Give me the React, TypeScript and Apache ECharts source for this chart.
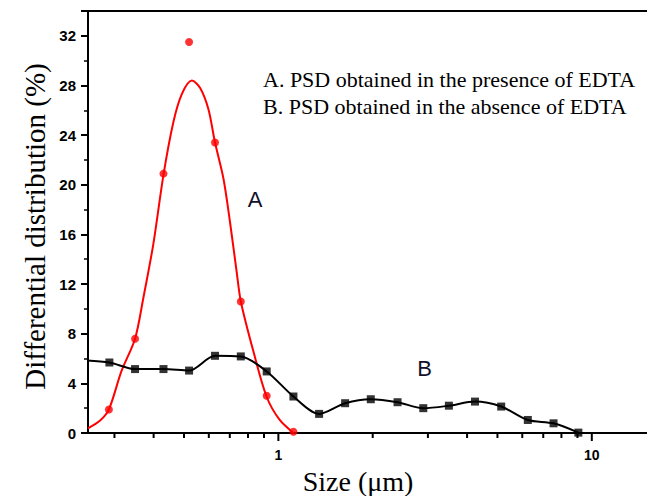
import React, { useEffect, useRef } from "react";
import * as echarts from "echarts";

// Curve A: fitted curve (presence of EDTA)
const curveAX = [0.247, 0.27, 0.288, 0.316, 0.349, 0.371, 0.399, 0.43, 0.462, 0.492, 0.53, 0.563, 0.598, 0.628, 0.668, 0.701, 0.736, 0.759, 0.832, 0.918, 1.01, 1.117];
const curveAY = [0.38, 1.0, 1.9, 5.0, 7.6, 10.9, 15.2, 20.8, 25.0, 27.3, 28.4, 27.8, 26.1, 23.4, 20.5, 17.0, 13.0, 10.6, 6.6, 2.9, 1.05, 0];
// Points A
const pointsAX = [0.288, 0.349, 0.43, 0.519, 0.628, 0.759, 0.918, 1.117];
const pointsAY = [1.9, 7.6, 20.9, 31.5, 23.4, 10.6, 3.0, 0.1];
// Series B (absence of EDTA)
const lineBX = [0.239, 0.289, 0.349, 0.43, 0.519, 0.628, 0.759, 0.918, 1.117, 1.349, 1.633, 1.972, 2.4, 2.9, 3.5, 4.24, 5.14, 6.25, 7.55, 9.06];
const lineBY = [5.86, 5.68, 5.15, 5.15, 5.03, 6.22, 6.17, 4.96, 2.94, 1.54, 2.4, 2.72, 2.48, 2.0, 2.2, 2.53, 2.13, 1.05, 0.78, 0.03];
// x-axis ticks
const majorTicks = [1, 10];
const minorTicks = [0.3, 0.4, 0.5, 0.6, 0.7, 0.8, 0.9, 2, 3, 4, 5, 6, 7, 8, 9];

const legendLines = [
  "A. PSD obtained in the presence of EDTA",
  "B. PSD obtained in the absence of EDTA",
];

const SERIF = "'Liberation Serif', 'Times New Roman', serif";
const SANS = "'Liberation Sans', Arial, sans-serif";

export default function App() {
  const ref = useRef<HTMLDivElement>(null);
  useEffect(() => {
    if (!ref.current) return;
    const chart = echarts.init(ref.current, undefined, { renderer: "svg" });
    const zip = (xs: number[], ys: number[]) => xs.map((x, i) => [x, ys[i]]);
    const tickData = [
      ...majorTicks.map((v) => [v, 8]),
      ...minorTicks.map((v) => [v, 5]),
    ];
    chart.setOption({
      animation: false,
      backgroundColor: "#ffffff",
      grid: { left: 88, right: 0, top: 11, bottom: 63, containLabel: false },
      xAxis: [
        {
          type: "log",
          logBase: 10,
          min: 0.247,
          max: 15,
          axisLine: { show: true, lineStyle: { color: "#000", width: 2 } },
          axisTick: { show: false },
          splitLine: { show: false },
          axisLabel: {
            margin: 15,
            color: "#000",
            fontFamily: SANS,
            fontWeight: "bold",
            fontSize: 14,
            showMinLabel: false,
            showMaxLabel: false,
            formatter: (v: number) =>
              Math.abs(v - 1) < 1e-6 ? "1" : Math.abs(v - 10) < 1e-6 ? "10" : "",
          },
        },
        {
          type: "log",
          logBase: 10,
          min: 0.247,
          max: 15,
          position: "top",
          axisLine: { show: true, onZero: false, lineStyle: { color: "#000", width: 2 } },
          axisTick: { show: false },
          axisLabel: { show: false },
          splitLine: { show: false },
        },
      ],
      yAxis: {
        type: "value",
        min: 0,
        max: 34,
        interval: 4,
        axisLine: { show: true, lineStyle: { color: "#000", width: 2 } },
        axisTick: { show: true, length: 7, lineStyle: { color: "#000", width: 2 } },
        minorTick: { show: true, splitNumber: 2, length: 4, lineStyle: { color: "#000", width: 1.5 } },
        splitLine: { show: false },
        axisLabel: {
          margin: 12,
          color: "#000",
          fontFamily: SANS,
          fontWeight: "bold",
          fontSize: 15,
          showMaxLabel: false,
          formatter: (v: number) => (v > 32 ? "" : String(v)),
        },
      },
      series: [
        {
          type: "line",
          data: zip(curveAX, curveAY),
          smooth: 0.3,
          showSymbol: false,
          lineStyle: { color: "#ff0000", width: 2 },
          itemStyle: { color: "#ff0000" },
          clip: true,
          z: 3,
        },
        {
          type: "scatter",
          data: zip(pointsAX, pointsAY),
          symbol: "circle",
          symbolSize: 8,
          itemStyle: { color: "#ff0000" },
          z: 4,
        },
        {
          type: "line",
          data: zip(lineBX, lineBY),
          smooth: 0.3,
          showSymbol: false,
          lineStyle: { color: "#000", width: 2 },
          clip: true,
          z: 3,
        },
        {
          type: "scatter",
          data: zip(lineBX.slice(1), lineBY.slice(1)),
          symbol: "rect",
          symbolSize: 8,
          itemStyle: { color: "#000" },
          z: 4,
        },
        {
          type: "custom",
          clip: false,
          silent: true,
          data: tickData,
          renderItem: (params: any, api: any) => {
            const p = api.coord([api.value(0), 0]);
            return {
              type: "line",
              shape: { x1: p[0], y1: p[1], x2: p[0], y2: p[1] + api.value(1) },
              style: { stroke: "#000", lineWidth: 2 },
            };
          },
          z: 5,
        },
      ],
      graphic: [
        {
          type: "text",
          x: 263,
          y: 79.5,
          style: { text: legendLines[0], font: `22px ${SERIF}`, fill: "#000", textAlign: "left", textVerticalAlign: "middle" },
        },
        {
          type: "text",
          x: 263,
          y: 106.5,
          style: { text: legendLines[1], font: `22px ${SERIF}`, fill: "#000", textAlign: "left", textVerticalAlign: "middle" },
        },
        {
          type: "text",
          x: 255,
          y: 199,
          style: { text: "A", font: `22px ${SANS}`, fill: "#10102a", textAlign: "center", textVerticalAlign: "middle" },
        },
        {
          type: "text",
          x: 424.5,
          y: 368,
          style: { text: "B", font: `22px ${SANS}`, fill: "#10102a", textAlign: "center", textVerticalAlign: "middle" },
        },
        {
          type: "text",
          x: 358,
          y: 481.5,
          style: { text: "Size (\u03bcm)", font: `28px ${SERIF}`, fill: "#000", textAlign: "center", textVerticalAlign: "middle" },
        },
        {
          type: "text",
          x: 35,
          y: 226.5,
          rotation: Math.PI / 2,
          style: { text: "Differential distribution (%)", font: `29px ${SERIF}`, fill: "#000", textAlign: "center", textVerticalAlign: "middle" },
        },
      ],
    });
    return () => chart.dispose();
  }, []);
  return (
    <div
      ref={ref}
      style={{ position: "fixed", left: 0, top: 0, width: 647, height: 496, background: "#fff" }}
    />
  );
}
